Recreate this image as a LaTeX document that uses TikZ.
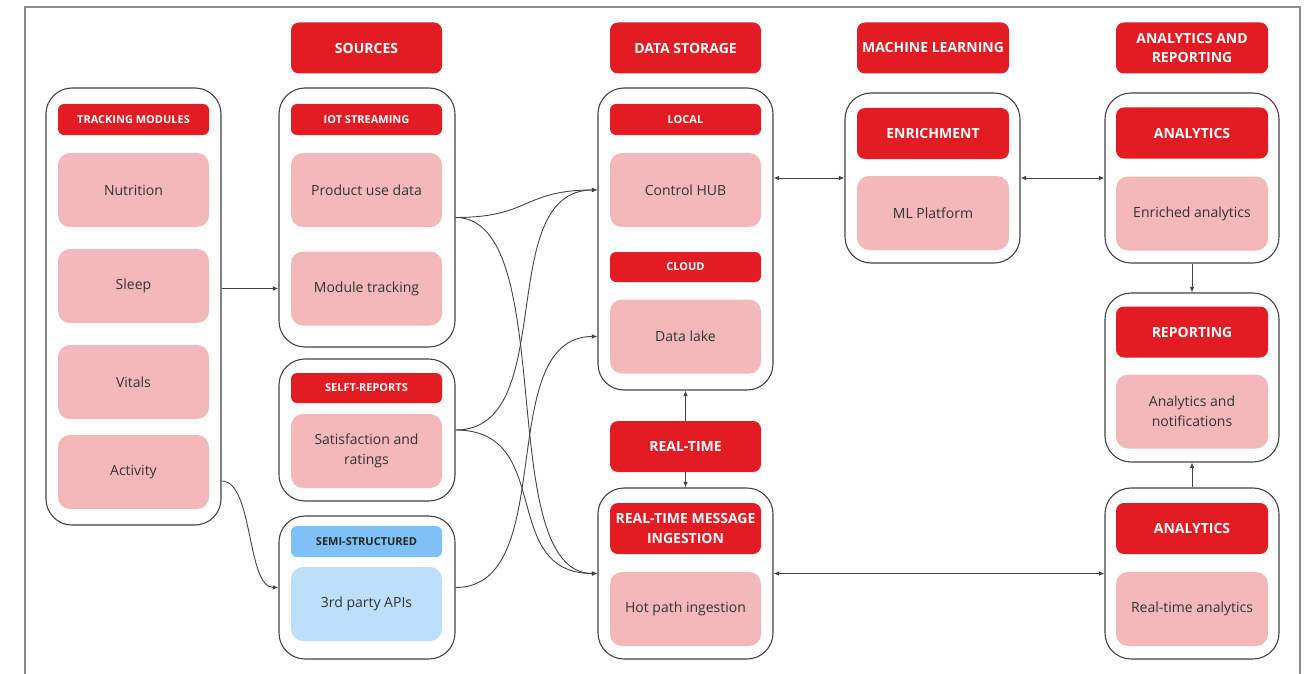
\documentclass[tikz,border=0pt]{standalone}
\usepackage{fontspec}
\setmainfont{Open Sans}
\usetikzlibrary{arrows.meta}

\definecolor{brandred}{HTML}{E31B23}
\definecolor{softred}{HTML}{F5B8BA}
\definecolor{midblue}{HTML}{7DC1F5}
\definecolor{paleblue}{HTML}{BDDFF9}
\definecolor{inktext}{HTML}{333333}
\definecolor{framegray}{HTML}{8C8C8C}
\definecolor{wiregray}{HTML}{444444}

\begin{document}
\begin{tikzpicture}[x=1pt,y=-1pt,
  group/.style={draw=wiregray, line width=1.1pt, fill=white, rounded corners=26pt,
    inner sep=0pt, minimum width=#1},
  group/.default=175,
  title/.style={fill=brandred, rounded corners=8pt, text=white, inner sep=0pt,
    minimum width=151, minimum height=51, align=center,
    font=\bfseries\fontsize{14}{19.5}\selectfont},
  tag/.style={fill=brandred, rounded corners=6pt, text=white, inner sep=0pt,
    minimum width=151, minimum height=31, align=center,
    font=\bfseries\fontsize{11}{13}\selectfont},
  item/.style={fill=softred, rounded corners=12pt, text=inktext, inner sep=0pt,
    minimum width=151, minimum height=74, align=center,
    font=\fontsize{14}{20}\selectfont},
  bluetag/.style={tag, fill=midblue, text=black!85},
  blueitem/.style={item, fill=paleblue},
  link/.style={draw=wiregray, line width=0.9pt, -{Latex[length=5.5pt,width=4.5pt]}},
  duplex/.style={draw=wiregray, line width=0.9pt,
    {Latex[length=5.5pt,width=4.5pt]}-{Latex[length=5.5pt,width=4.5pt]}}
]
\useasboundingbox (0,0) rectangle (1308,674);

% open outer frame
\draw[framegray, line width=1.5pt] (25,674) -- (25,7) -- (1300,7) -- (1300,674);

% column titles
\node[title] (hsrc) at (366.5,48) {SOURCES};
\node[title] (hsto) at (685.5,48) {DATA STORAGE};
\node[title, minimum width=152] (hml) at (933,48) {MACHINE LEARNING};
\node[title, minimum width=152] (hana) at (1192,48) {ANALYTICS AND\\REPORTING};

% tracking modules
\node[group, minimum height=437] (track) at (133.5,306.5) {};
\node[tag] (ttrack) at (133.5,119.5) {TRACKING MODULES};
\node[item] (nut) at (133.5,190) {Nutrition};
\node[item] (sleep) at (133.5,286) {Sleep};
\node[item] (vit) at (133.5,382) {Vitals};
\node[item] (act) at (133.5,472) {Activity};

% sources
\node[group=176, minimum height=259] (iot) at (367,217.5) {};
\node[tag] (tiot) at (366.5,119.5) {IOT STREAMING};
\node[item] (prod) at (366.5,190) {Product use data};
\node[item] (modt) at (366.5,288.5) {Module tracking};

\node[group=176, minimum height=142] (self) at (367,430) {};
\node[tag, minimum height=30] (tself) at (366.5,388) {SELFT-REPORTS};
\node[item] (sat) at (366.5,451) {Satisfaction and\\ratings};

\node[group=176, minimum height=143] (semi) at (367,587.5) {};
\node[bluetag] (tsemi) at (366.5,541.5) {SEMI-STRUCTURED};
\node[blueitem] (api) at (366.5,604) {3rd party APIs};

% data storage
\node[group, minimum height=302] (store) at (685.5,239) {};
\node[tag] (tloc) at (685.5,119.5) {LOCAL};
\node[item] (hub) at (685.5,190) {Control HUB};
\node[tag, minimum height=30] (tcloud) at (685.5,267) {CLOUD};
\node[item] (lake) at (685.5,336.5) {Data lake};

\node[title] (rt) at (685.5,446.5) {REAL-TIME};

\node[group, minimum height=171] (ingest) at (685.5,573.5) {};
\node[title] (tingest) at (685.5,528.5) {REAL-TIME MESSAGE\\INGESTION};
\node[item] (hot) at (685.5,609) {Hot path ingestion};

% machine learning
\node[group, minimum height=170] (ml) at (932.5,178) {};
\node[title, minimum width=152] (tenr) at (933,133.5) {ENRICHMENT};
\node[item, minimum width=152] (mlp) at (933,213) {ML Platform};

% analytics and reporting
\node[group=174, minimum height=170] (anatop) at (1192,178) {};
\node[title, minimum width=152] (tana1) at (1192,133) {ANALYTICS};
\node[item, minimum width=152] (enr) at (1192,213.5) {Enriched analytics};

\node[group=174, minimum height=169] (rep) at (1192,377.5) {};
\node[title, minimum width=152] (trep) at (1192,332) {REPORTING};
\node[item, minimum width=152] (notif) at (1192,411.5) {Analytics and\\notifications};

\node[group=174, minimum height=171] (anabot) at (1192,573.5) {};
\node[title, minimum width=152] (tana2) at (1192,528.5) {ANALYTICS};
\node[item, minimum width=152] (rta) at (1192,609) {Real-time analytics};

% connectors
\coordinate (actout) at (track.east |- 0,481);
\draw[link] (track.east |- modt) -- (iot.west |- modt);
\draw[link] (actout) .. controls +(32,0) and +(-32,0) .. (semi.west);

\draw[link] (iot.east) .. controls +(75,0) and +(-75,0) .. (store.west |- hub);
\draw[link] (iot.east) .. controls +(105,0) and +(-105,0) .. (ingest.west);
\draw[link] (self.east) .. controls +(105,0) and +(-105,0) .. (store.west |- hub);
\draw[link] (self.east) .. controls +(100,0) and +(-100,0) .. (ingest.west);
\draw[link] (semi.east) .. controls +(105,0) and +(-105,0) .. (store.west |- lake);

\draw[link] (rt.north) -- (store.south);
\draw[link] (rt.south) -- (ingest.north);

\draw[duplex] (store.east |- ml.west) -- (ml.west);
\draw[duplex] (ml.east) -- (anatop.west);
\draw[duplex] (ingest.east) -- (anabot.west);

\draw[link] (anatop.south) -- (rep.north);
\draw[link] (anabot.north) -- (rep.south);
\end{tikzpicture}
\end{document}
